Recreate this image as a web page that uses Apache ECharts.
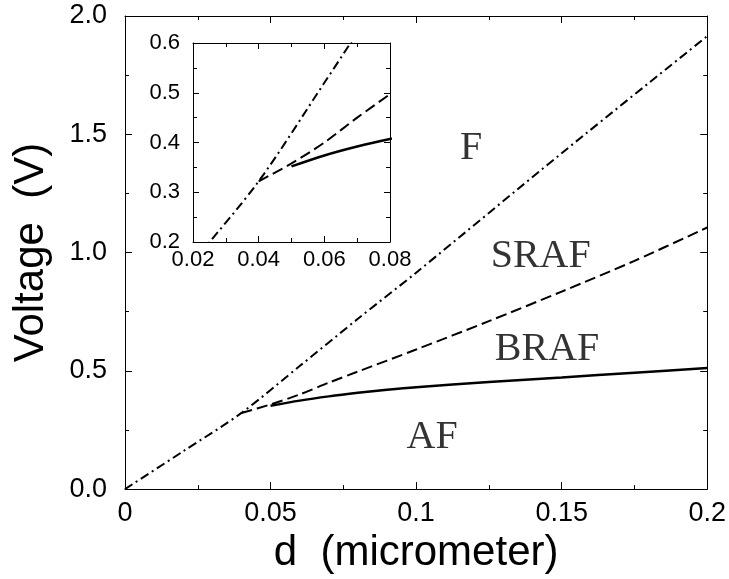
<!DOCTYPE html>
<html>
<head>
<meta charset="utf-8">
<script src="https://cdn.jsdelivr.net/npm/echarts@6/dist/echarts.min.js"></script>
<style>
  html, body { margin: 0; padding: 0; background: #fff; }
  #chart { width: 729px; height: 579px; }
</style>
</head>
<body>
<div id="chart"></div>
<script>
// phase boundaries, d in micrometer, V in volt
const fD = [0, 0.02, 0.04, 0.06, 0.08, 0.1, 0.15, 0.2]
const fV = [0, 0.16, 0.322, 0.52, 0.72, 0.915, 1.42, 1.915]

const srafD = [0.04, 0.05, 0.06, 0.07, 0.08, 0.1, 0.125, 0.15, 0.175, 0.2]
const srafV = [0.322, 0.358, 0.4, 0.45, 0.497, 0.59, 0.71, 0.835, 0.965, 1.106]

const brafD = [0.05, 0.06, 0.07, 0.08, 0.09, 0.1, 0.125, 0.15, 0.175, 0.2]
const brafV = [0.352, 0.374, 0.392, 0.407, 0.42, 0.431, 0.453, 0.472, 0.492, 0.512]

// region labels
const regionNames = ['F', 'SRAF', 'BRAF', 'AF']
const regionD = [0.1189, 0.1428, 0.145, 0.1055]
const regionV = [1.438, 0.983, 0.591, 0.219]

const pairs = (xs, ys) => xs.map((x, i) => [x, ys[i]])

const sans = 'Liberation Sans, Arial, sans-serif'
const black = '#000'

const chart = echarts.init(document.getElementById('chart'))

const axisBase = (extra) => Object.assign({
  type: 'value',
  axisLine: { show: true, onZero: false, lineStyle: { color: black, width: 1 } },
  splitLine: { show: false },
}, extra)

const mainTick = { show: true, inside: true, length: 7, lineStyle: { color: black, width: 1 } }
const mainMinor = { show: true, splitNumber: 2, length: 4, lineStyle: { color: black, width: 1 } }
const insetTick = { show: true, inside: true, length: 6, lineStyle: { color: black, width: 1 } }
const insetMinor = { show: true, splitNumber: 2, length: 4, lineStyle: { color: black, width: 1 } }

const lineSeries = (data, type, xi, yi, width) => ({
  type: 'line',
  data,
  xAxisIndex: xi,
  yAxisIndex: yi,
  symbol: 'none',
  smooth: 0.3,
  clip: true,
  lineStyle: { color: black, width, type },
  silent: true,
})

const dashDot = [9, 4, 2, 4]
const dashed = [11, 5]

const option = {
  animation: false,
  backgroundColor: '#fff',
  grid: [
    { left: 125, right: 21, top: 16, bottom: 79 },
    { left: 193, top: 43, width: 197, height: 199 },
  ],
  xAxis: [
    axisBase({
      gridIndex: 0, min: 0, max: 0.2, interval: 0.05, position: 'bottom',
      axisTick: mainTick, minorTick: mainMinor,
      axisLabel: { color: black, fontSize: 27, fontFamily: sans, margin: 11 },
      name: 'd  (micrometer)', nameLocation: 'middle', nameGap: 42,
      nameTextStyle: { color: black, fontSize: 42, fontFamily: sans },
    }),
    axisBase({
      gridIndex: 0, min: 0, max: 0.2, interval: 0.05, position: 'top',
      axisTick: mainTick, minorTick: mainMinor, axisLabel: { show: false },
    }),
    axisBase({
      gridIndex: 1, min: 0.02, max: 0.08, interval: 0.02, position: 'bottom',
      axisTick: insetTick, minorTick: insetMinor,
      axisLabel: { color: black, fontSize: 22, fontFamily: sans, margin: 7 },
    }),
    axisBase({
      gridIndex: 1, min: 0.02, max: 0.08, interval: 0.02, position: 'top',
      axisTick: insetTick, minorTick: insetMinor, axisLabel: { show: false },
    }),
  ],
  yAxis: [
    axisBase({
      gridIndex: 0, min: 0, max: 2, interval: 0.5, position: 'left',
      axisTick: mainTick, minorTick: mainMinor,
      axisLabel: { color: black, fontSize: 27, fontFamily: sans, margin: 18, formatter: (v) => v.toFixed(1) },
      name: 'Voltage  (V)', nameLocation: 'middle', nameGap: 73,
      nameTextStyle: { color: black, fontSize: 42, fontFamily: sans },
    }),
    axisBase({
      gridIndex: 0, min: 0, max: 2, interval: 0.5, position: 'right',
      axisTick: mainTick, minorTick: mainMinor, axisLabel: { show: false },
    }),
    axisBase({
      gridIndex: 1, min: 0.2, max: 0.6, interval: 0.1, position: 'left',
      axisTick: insetTick, minorTick: insetMinor,
      axisLabel: { color: black, fontSize: 22, fontFamily: sans, margin: 13 },
    }),
    axisBase({
      gridIndex: 1, min: 0.2, max: 0.6, interval: 0.1, position: 'right',
      axisTick: insetTick, minorTick: insetMinor, axisLabel: { show: false },
    }),
  ],
  series: [
    lineSeries(pairs(fD, fV), dashDot, 0, 0, 2),
    lineSeries(pairs(srafD, srafV), dashed, 0, 0, 2),
    lineSeries(pairs(brafD, brafV), 'solid', 0, 0, 2.5),
    lineSeries(pairs(fD, fV), dashDot, 2, 2, 2),
    lineSeries(pairs(srafD, srafV), dashed, 2, 2, 2),
    lineSeries(pairs(brafD, brafV), 'solid', 2, 2, 2.5),
    {
      type: 'scatter',
      xAxisIndex: 0,
      yAxisIndex: 0,
      symbolSize: 0,
      silent: true,
      data: regionNames.map((n, i) => ({ name: n, value: [regionD[i], regionV[i]] })),
      label: {
        show: true,
        position: 'inside',
        formatter: (p) => p.name,
        color: black,
        fontSize: 40,
        fontFamily: 'Liberation Serif, Times New Roman, serif',
      },
    },
  ],
}

chart.setOption(option)
</script>
</body>
</html>
